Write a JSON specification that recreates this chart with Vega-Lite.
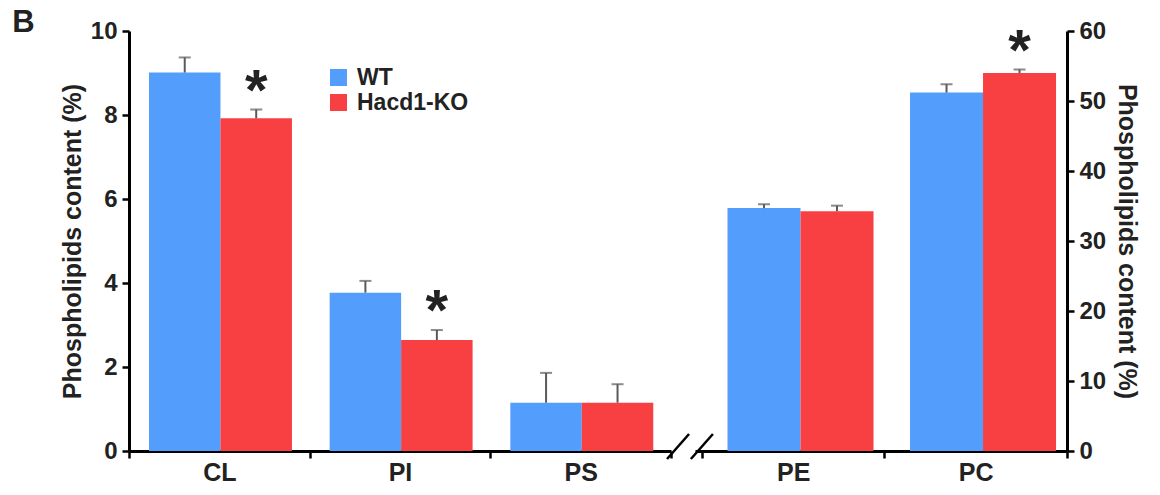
{
  "$schema": "https://vega.github.io/schema/vega-lite/v6.json",
  "padding": {"left": 12, "top": 7, "right": 5, "bottom": 5},
  "background": "white",
  "title": {"text": "B", "anchor": "start", "frame": "bounds", "fontSize": 31, "fontWeight": "bold", "font": "Liberation Sans", "color": "#222", "dx": -48, "offset": -20},
  "bounds": "flush",
  "spacing": 24,
  "datasets": {
    "main": [
      {"lipid": "CL", "group": "WT", "value": 9.01, "upper": 9.37, "sig": ""},
      {"lipid": "CL", "group": "Hacd1-KO", "value": 7.92, "upper": 8.13, "sig": "*"},
      {"lipid": "PI", "group": "WT", "value": 3.77, "upper": 4.05, "sig": ""},
      {"lipid": "PI", "group": "Hacd1-KO", "value": 2.64, "upper": 2.88, "sig": "*"},
      {"lipid": "PS", "group": "WT", "value": 1.15, "upper": 1.86, "sig": ""},
      {"lipid": "PS", "group": "Hacd1-KO", "value": 1.15, "upper": 1.59, "sig": ""},
      {"lipid": "PE", "group": "WT", "value": 34.7, "upper": 35.25, "sig": ""},
      {"lipid": "PE", "group": "Hacd1-KO", "value": 34.25, "upper": 35.05, "sig": ""},
      {"lipid": "PC", "group": "WT", "value": 51.2, "upper": 52.4, "sig": ""},
      {"lipid": "PC", "group": "Hacd1-KO", "value": 54.0, "upper": 54.5, "sig": "*"}
    ]
  },
  "resolve": {"scale": {"x": "independent", "y": "independent", "xOffset": "independent"}},
  "hconcat": [
    {
      "width": 542,
      "height": 420,
      "layer": [
        {
          "data": {"name": "main"},
          "transform": [{"filter": "indexof(['CL','PI','PS'], datum.lipid) >= 0"}],
          "mark": {"type": "bar"},
          "encoding": {
            "x": {"field": "lipid", "type": "nominal", "sort": ["CL", "PI", "PS"], "scale": {"paddingInner": 0, "paddingOuter": 0},
              "axis": {"title": null, "labelAngle": 0, "tickBand": "extent", "tickExtra": false, "labelFontSize": 25, "labelPadding": 2}},
            "xOffset": {"field": "group", "type": "nominal", "sort": ["WT", "Hacd1-KO"], "scale": {"paddingInner": 0, "paddingOuter": 0.264, "align": 0.53}},
            "y": {"field": "value", "type": "quantitative", "scale": {"domain": [0, 10], "nice": false},
              "axis": {"values": [0, 2, 4, 6, 8, 10], "title": "Phospholipids content (%)", "orient": "left", "titlePadding": 5}},
            "color": {"field": "group", "type": "nominal", "scale": {"domain": ["WT", "Hacd1-KO"], "range": ["#539dfd", "#f83f41"]},
              "legend": {"title": null, "orient": "none", "legendX": 198, "legendY": 35, "symbolType": "square", "symbolSize": 289, "symbolStrokeWidth": 0, "symbolOpacity": 1, "labelFontSize": 23, "labelFont": "Liberation Sans", "labelFontWeight": "bold", "labelColor": "#222", "rowPadding": 1, "labelOffset": 7}}
          }
        },
        {
          "data": {"name": "main"},
          "transform": [{"filter": "indexof(['CL','PI','PS'], datum.lipid) >= 0"}],
          "mark": {"type": "rule", "color": "#5a5a5a", "strokeWidth": 2},
          "encoding": {
            "x": {"field": "lipid", "type": "nominal", "sort": ["CL", "PI", "PS"]},
            "xOffset": {"field": "group", "type": "nominal", "sort": ["WT", "Hacd1-KO"]},
            "y": {"field": "value", "type": "quantitative"},
            "y2": {"field": "upper"}
          }
        },
        {
          "data": {"name": "main"},
          "transform": [{"filter": "indexof(['CL','PI','PS'], datum.lipid) >= 0"}],
          "mark": {"type": "tick", "orient": "horizontal", "color": "#5a5a5a", "size": 12, "thickness": 2},
          "encoding": {
            "x": {"field": "lipid", "type": "nominal", "sort": ["CL", "PI", "PS"]},
            "xOffset": {"field": "group", "type": "nominal", "sort": ["WT", "Hacd1-KO"]},
            "y": {"field": "upper", "type": "quantitative"}
          }
        },
        {
          "data": {"name": "main"},
          "transform": [{"filter": "indexof(['CL','PI','PS'], datum.lipid) >= 0 && datum.sig == '*'"}],
          "mark": {"type": "text", "font": "Liberation Sans", "fontWeight": "bold", "fontSize": 58, "color": "#222", "baseline": "alphabetic", "align": "center"},
          "encoding": {
            "x": {"field": "lipid", "type": "nominal", "sort": ["CL", "PI", "PS"]},
            "xOffset": {"field": "group", "type": "nominal", "sort": ["WT", "Hacd1-KO"]},
            "y": {"field": "upper", "type": "quantitative"},
            "text": {"field": "sig"}
          }
        },
        {
          "data": {"values": [{}]},
          "mark": {"type": "rule", "color": "black", "strokeWidth": 2.5},
          "encoding": {
            "x": {"datum": "PS", "type": "nominal", "bandPosition": 0.978},
            "x2": {"datum": "PS", "bandPosition": 1.10},
            "y": {"datum": -0.19, "type": "quantitative"},
            "y2": {"datum": 0.405}
          }
        },
        {
          "data": {"values": [{}]},
          "mark": {"type": "rule", "color": "black", "strokeWidth": 2.5},
          "encoding": {
            "x": {"datum": "PS", "type": "nominal", "bandPosition": 1.11},
            "x2": {"datum": "PS", "bandPosition": 1.232},
            "y": {"datum": -0.19, "type": "quantitative"},
            "y2": {"datum": 0.405}
          }
        }
      ]
    },
    {
      "width": 372,
      "height": 420,
      "layer": [
        {
          "data": {"name": "main"},
          "transform": [{"filter": "indexof(['PE','PC'], datum.lipid) >= 0"}],
          "mark": {"type": "bar"},
          "encoding": {
            "x": {"field": "lipid", "type": "nominal", "sort": ["PE", "PC"], "scale": {"paddingInner": 0, "paddingOuter": 0.019, "align": 1},
              "axis": {"title": null, "labelAngle": 0, "tickBand": "extent", "labelFontSize": 25, "labelPadding": 2}},
            "xOffset": {"field": "group", "type": "nominal", "sort": ["WT", "Hacd1-KO"], "scale": {"paddingInner": 0, "paddingOuter": 0.25, "align": 0.7}},
            "y": {"field": "value", "type": "quantitative", "scale": {"domain": [0, 60], "nice": false},
              "axis": {"values": [0, 10, 20, 30, 40, 50, 60], "title": "Phospholipids content (%)", "orient": "right", "titlePadding": 8}},
            "color": {"field": "group", "type": "nominal"}
          }
        },
        {
          "data": {"name": "main"},
          "transform": [{"filter": "indexof(['PE','PC'], datum.lipid) >= 0"}],
          "mark": {"type": "rule", "color": "#5a5a5a", "strokeWidth": 2},
          "encoding": {
            "x": {"field": "lipid", "type": "nominal", "sort": ["PE", "PC"]},
            "xOffset": {"field": "group", "type": "nominal", "sort": ["WT", "Hacd1-KO"]},
            "y": {"field": "value", "type": "quantitative"},
            "y2": {"field": "upper"}
          }
        },
        {
          "data": {"name": "main"},
          "transform": [{"filter": "indexof(['PE','PC'], datum.lipid) >= 0"}],
          "mark": {"type": "tick", "orient": "horizontal", "color": "#5a5a5a", "size": 12, "thickness": 2},
          "encoding": {
            "x": {"field": "lipid", "type": "nominal", "sort": ["PE", "PC"]},
            "xOffset": {"field": "group", "type": "nominal", "sort": ["WT", "Hacd1-KO"]},
            "y": {"field": "upper", "type": "quantitative"}
          }
        },
        {
          "data": {"name": "main"},
          "transform": [{"filter": "indexof(['PE','PC'], datum.lipid) >= 0 && datum.sig == '*'"}],
          "mark": {"type": "text", "font": "Liberation Sans", "fontWeight": "bold", "fontSize": 58, "color": "#222", "baseline": "alphabetic", "align": "center"},
          "encoding": {
            "x": {"field": "lipid", "type": "nominal", "sort": ["PE", "PC"]},
            "xOffset": {"field": "group", "type": "nominal", "sort": ["WT", "Hacd1-KO"]},
            "y": {"field": "upper", "type": "quantitative"},
            "text": {"field": "sig"}
          }
        }
      ]
    }
  ],
  "config": {
    "font": "Liberation Sans",
    "view": {"stroke": null},
    "axis": {
      "grid": false,
      "domainColor": "black",
      "domainWidth": 3,
      "tickColor": "black",
      "tickWidth": 2.5,
      "tickSize": 7,
      "labelFont": "Liberation Sans",
      "labelFontWeight": "bold",
      "labelFontSize": 24,
      "labelColor": "#222",
      "labelPadding": 5,
      "titleFont": "Liberation Sans",
      "titleFontWeight": "bold",
      "titleFontSize": 25,
      "titleColor": "#222"
    }
  }
}
